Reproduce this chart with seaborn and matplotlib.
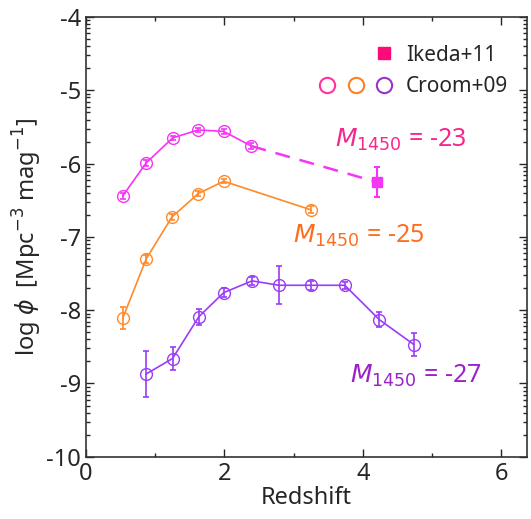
import numpy as np
import pandas as pd
import seaborn as sns
import matplotlib.pyplot as plt
from matplotlib.ticker import FixedLocator, MultipleLocator
from matplotlib.lines import Line2D
from matplotlib.legend_handler import HandlerTuple

# Croom+09 binned QLF at three magnitudes
z_m23 = [0.53, 0.87, 1.25, 1.62, 1.99, 2.39]
phi_m23 = [-6.44, -5.99, -5.65, -5.54, -5.56, -5.76]
err_m23 = [0.04, 0.04, 0.03, 0.03, 0.03, 0.04]

z_m25 = [0.53, 0.87, 1.24, 1.62, 1.99, 3.25]
phi_m25 = [-8.11, -7.30, -6.73, -6.41, -6.24, -6.63]
err_m25 = [0.15, 0.06, 0.04, 0.03, 0.03, 0.05]

z_m27 = [0.87, 1.25, 1.63, 1.99, 2.40, 2.79, 3.25, 3.74, 4.24, 4.74]
phi_m27 = [-8.87, -8.66, -8.09, -7.76, -7.60, -7.66, -7.66, -7.66, -8.13, -8.47]
err_m27 = [0.31, 0.16, 0.11, 0.06, 0.05, 0.26, 0.06, 0.05, 0.10, 0.16]

# Ikeda+11 at z~4
z_ikeda = [4.2]
phi_ikeda = [-6.25]
err_ikeda = [0.2]

c23, c25, c27 = "#f535f5", "#ff8a2a", "#9b3cf5"
t23, t25, t27 = "#f5288c", "#ff6e1e", "#9a22c8"

sns.set_style("ticks")
plt.rcParams["font.family"] = ["Noto Sans", "DejaVu Sans"]
plt.rcParams["mathtext.fontset"] = "dejavusans"
plt.rcParams["axes.unicode_minus"] = False

fig = plt.figure(figsize=(5.31, 5.19), dpi=100)
ax = fig.add_axes([0.162, 0.12, 0.83, 0.847])

series = [(z_m23, phi_m23, err_m23, c23),
          (z_m25, phi_m25, err_m25, c25),
          (z_m27, phi_m27, err_m27, c27)]
for z, phi, err, col in series:
    df = pd.DataFrame({"z": z, "phi": phi})
    sns.lineplot(data=df, x="z", y="phi", ax=ax, color=col, lw=1.2,
                 marker="o", markersize=8.5, markerfacecolor="none",
                 markeredgecolor=col, markeredgewidth=1.0)
    ax.errorbar(z, phi, yerr=err, fmt="none", ecolor=col, elinewidth=1.2,
                capsize=2.5, capthick=1.2)

# dashed link from last Croom -23 point to Ikeda
ax.plot([z_m23[-1], z_ikeda[0]], [phi_m23[-1], phi_ikeda[0]],
        ls=(0, (6, 4)), color=c23, lw=1.8)
ax.errorbar(z_ikeda, phi_ikeda, yerr=err_ikeda, fmt="s", color=c23,
            markersize=6.5, elinewidth=1.5, capsize=2.5, capthick=1.5)

ax.text(3.6, -5.67, r"$M_{1450}$ = -23", color=t23, fontsize=18, va="center")
ax.text(2.99, -6.99, r"$M_{1450}$ = -25", color=t25, fontsize=18, va="center")
ax.text(3.81, -8.90, r"$M_{1450}$ = -27", color=t27, fontsize=18, va="center")

ax.set_xlim(0, 6.37)
ax.set_ylim(-10, -4)
ax.xaxis.set_major_locator(MultipleLocator(2))
ax.xaxis.set_minor_locator(MultipleLocator(1))
ax.yaxis.set_major_locator(MultipleLocator(1))
ax.yaxis.set_minor_locator(FixedLocator(
    [d + np.log10(k) for d in range(-10, -4) for k in range(2, 10)]))
ax.tick_params(which="both", direction="in", top=True, right=True,
               labelsize=17, width=1)
ax.tick_params(which="major", length=6)
ax.tick_params(which="minor", length=3)
for s in ax.spines.values():
    s.set_linewidth(1.2)
    s.set_color("#333333")

ax.set_xlabel("Redshift", fontsize=17, labelpad=0)
ax.set_ylabel(r"log $\phi$  [Mpc$^{-3}$ mag$^{-1}$]", fontsize=17, labelpad=2)

blank = Line2D([], [], ls="none")
h_ikeda = (blank, blank,
           Line2D([], [], marker="s", ls="none", color="#ff0a78", markersize=9))
h_croom = tuple(Line2D([], [], marker="o", ls="none", markerfacecolor="none",
                       markeredgecolor=c, markeredgewidth=1.5, markersize=11)
                for c in ["#ff3399", "#ff7f27", "#9933cc"])
ax.legend([h_ikeda, h_croom], ["Ikeda+11", "Croom+09"],
          handler_map={tuple: HandlerTuple(ndivide=None, pad=0.3)},
          loc="upper right", frameon=False, fontsize=15, handlelength=3.8,
          handletextpad=0.5, labelspacing=0.5, bbox_to_anchor=(1.0, 0.98))

fig.savefig("out.png", dpi=100)
